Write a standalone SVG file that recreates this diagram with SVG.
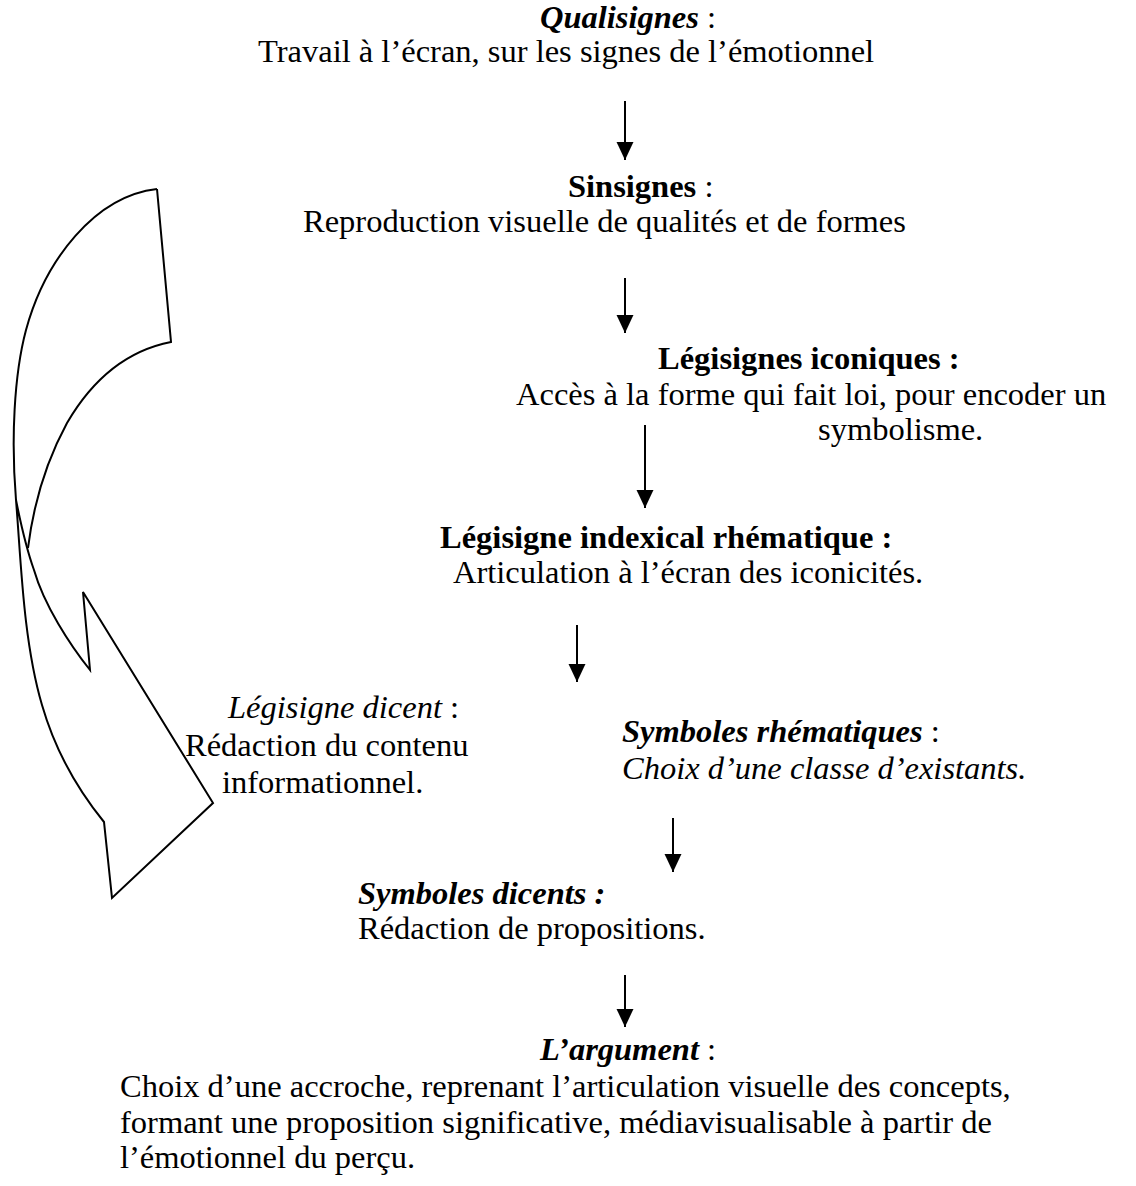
<svg xmlns="http://www.w3.org/2000/svg" width="1136" height="1186" viewBox="0 0 1136 1186">
<defs>
<style>
text{font-family:"Liberation Serif","Times New Roman",serif;font-size:32.5px;fill:#000}
.b{font-weight:bold}
.i{font-style:italic}
.shape{fill:none;stroke:#000;stroke-width:2;stroke-linejoin:miter}
.arr{stroke:#000;stroke-width:2;fill:none}
</style>
<marker id="ah" markerUnits="userSpaceOnUse" markerWidth="18" markerHeight="18" viewBox="0 0 17 16" refX="17" refY="8" orient="auto">
<path d="M0,0 L17,8 L0,16 Z" fill="#000"/>
</marker>
</defs>
<rect width="1136" height="1186" fill="#fff"/>

<g id="curved-arrow">
<path class="shape" d="M157,189 C95,196 45,260 26,330 C14,375 11,440 16,500 C21,560 23,640 42,705 C55,750 78,790 104,822 L112,898 L213,803 L83,592 L90,670 C70,645 44,605 34,570 C25,545 20,520 16,500"/>
<path class="shape" d="M157,189 L171,342 C130,350 95,375 67,423 C48,458 34,500 28,548"/>
</g>

<g id="connectors">
<line class="arr" x1="625" y1="101" x2="625" y2="160" marker-end="url(#ah)"/>
<line class="arr" x1="625" y1="278" x2="625" y2="333" marker-end="url(#ah)"/>
<line class="arr" x1="645" y1="425" x2="645" y2="508" marker-end="url(#ah)"/>
<line class="arr" x1="577" y1="625" x2="577" y2="682" marker-end="url(#ah)"/>
<line class="arr" x1="673" y1="818" x2="673" y2="872" marker-end="url(#ah)"/>
<line class="arr" x1="625" y1="975" x2="625" y2="1027" marker-end="url(#ah)"/>
</g>

<g id="qualisignes">
<text x="540" y="28"><tspan class="b i">Qualisignes</tspan> :</text>
<text x="258" y="62">Travail à l’écran, sur les signes de l’émotionnel</text>
</g>

<g id="sinsignes">
<text x="568" y="197"><tspan class="b">Sinsignes</tspan> :</text>
<text x="303" y="232">Reproduction visuelle de qualités et de formes</text>
</g>

<g id="legisignes-iconiques">
<text x="658" y="369" class="b">Légisignes iconiques :</text>
<text x="516" y="405">Accès à la forme qui fait loi, pour encoder un</text>
<text x="818" y="440">symbolisme.</text>
</g>

<g id="legisigne-indexical">
<text x="440" y="548" class="b">Légisigne indexical rhématique :</text>
<text x="453" y="583">Articulation à l’écran des iconicités.</text>
</g>

<g id="legisigne-dicent">
<text x="228" y="718"><tspan class="i">Légisigne dicent</tspan> :</text>
<text x="185" y="756">Rédaction du contenu</text>
<text x="222" y="793">informationnel.</text>
</g>

<g id="symboles-rhematiques">
<text x="622" y="742"><tspan class="b i">Symboles rhématiques</tspan> :</text>
<text x="622" y="779" class="i">Choix d’une classe d’existants.</text>
</g>

<g id="symboles-dicents">
<text x="358" y="904" class="b i">Symboles dicents :</text>
<text x="358" y="939">Rédaction de propositions.</text>
</g>

<g id="argument">
<text x="540" y="1060"><tspan class="b i">L’argument</tspan> :</text>
<text x="120" y="1097">Choix d’une accroche, reprenant l’articulation visuelle des concepts,</text>
<text x="120" y="1133">formant une proposition significative, médiavisualisable à partir de</text>
<text x="120" y="1168">l’émotionnel du perçu.</text>
</g>
</svg>
